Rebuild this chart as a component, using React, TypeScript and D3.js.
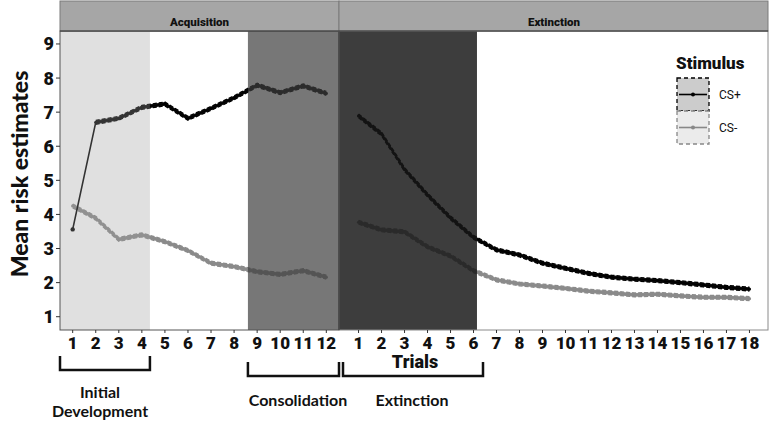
import React from "react";
import * as d3 from "d3";

const acqTrials = [1, 2, 3, 4, 5, 6, 7, 8, 9, 10, 11, 12];
const extTrials = [1, 2, 3, 4, 5, 6, 7, 8, 9, 10, 11, 12, 13, 14, 15, 16, 17, 18];
const acqCSplus = [3.56, 6.7, 6.82, 7.14, 7.24, 6.82, 7.11, 7.42, 7.79, 7.57, 7.77, 7.55];
const acqCSminus = [4.25, 3.89, 3.27, 3.4, 3.2, 2.94, 2.57, 2.47, 2.32, 2.24, 2.35, 2.16];
const extCSplus = [6.89, 6.36, 5.32, 4.57, 3.9, 3.33, 2.96, 2.81, 2.57, 2.42, 2.27, 2.16, 2.1, 2.06, 2.0, 1.93, 1.86, 1.81];
const extCSminus = [3.77, 3.55, 3.49, 3.05, 2.78, 2.35, 2.08, 1.96, 1.9, 1.83, 1.75, 1.7, 1.64, 1.66, 1.61, 1.57, 1.57, 1.53];
const yTicks = [1, 2, 3, 4, 5, 6, 7, 8, 9];
const panelLabels = ["Acquisition", "Extinction"];
const stimulusLabels = ["CS+", "CS-"];
const phaseLabels = ["Initial Development", "Consolidation", "Extinction"];

const W = 771, H = 423;
const TOP = 31, BOTTOM = 330;
const LX0 = 60, LX1 = 339, RX0 = 339, RX1 = 769;

export default function App() {
  const xL = d3.scaleLinear().domain([0.45, 12.55]).range([LX0, LX1]);
  const xR = d3.scaleLinear().domain([0.15, 18.85]).range([RX0, RX1]);
  const y = d3.scaleLinear().domain([0.61, 9.38]).range([BOTTOM, TOP]);
  const hw = 0.055;

  const colPlus = { line: "#000", fill: "#111", stroke: "#000" };
  const colMinus = { line: "#8a8a8a", fill: "#8f8f8f", stroke: "#8a8a8a" };

  const series = (x: any, trials: number[], vals: number[], col: any, ribbonStart: number, key: string) => {
    const pts = trials.map((t, i) => [t, vals[i]] as [number, number]);
    const line = d3.line<[number, number]>().x(d => x(d[0])).y(d => y(d[1]));
    const rib = pts.slice(ribbonStart);
    const area = d3.area<[number, number]>().x(d => x(d[0])).y0(d => y(d[1] - hw)).y1(d => y(d[1] + hw));
    const upper = d3.line<[number, number]>().x(d => x(d[0])).y(d => y(d[1] + hw));
    const lower = d3.line<[number, number]>().x(d => x(d[0])).y(d => y(d[1] - hw));
    return (
      <g key={key}>
        <path d={area(rib) || ""} fill={col.fill} />
        <path d={upper(rib) || ""} fill="none" stroke={col.stroke} strokeWidth={1.4} strokeDasharray="4,2" />
        <path d={lower(rib) || ""} fill="none" stroke={col.stroke} strokeWidth={1.4} strokeDasharray="4,2" />
        <path d={line(pts) || ""} fill="none" stroke={col.line} strokeWidth={1.6} />
        {pts.map((p, i) => (
          <circle key={i} cx={x(p[0])} cy={y(p[1])} r={i === 0 && ribbonStart > 0 ? 2.2 : 1.6} fill={col.line} />
        ))}
      </g>
    );
  };

  const tickFont = "Roboto, 'Liberation Sans', Arial, sans-serif";
  const annFont = "Lato, 'Open Sans', sans-serif";

  const bracket = (x0: number, x1: number, y0: number, y1: number) =>
    `M${x0},${y0}V${y1}H${x1}V${y0}`;

  return (
    <svg width={W} height={H} style={{ position: "absolute", left: 0, top: 0 }}>
      <rect x={0} y={0} width={W} height={H} fill="#fff" />
      <rect x={LX0} y={TOP} width={RX1 - LX0} height={BOTTOM - TOP} fill="#fff" />
      {series(xL, acqTrials, acqCSminus, colMinus, 0, "am")}
      {series(xL, acqTrials, acqCSplus, colPlus, 1, "ap")}
      {series(xR, extTrials, extCSminus, colMinus, 0, "em")}
      {series(xR, extTrials, extCSplus, colPlus, 0, "ep")}
      <rect x={xL(0.45)} y={TOP} width={xL(4.35) - xL(0.45)} height={BOTTOM - TOP} fill="rgb(160,160,160)" fillOpacity={0.32} />
      <rect x={xL(8.6)} y={TOP} width={xL(12.55) - xL(8.6)} height={BOTTOM - TOP} fill="rgb(61,61,61)" fillOpacity={0.7} />
      <rect x={xR(0.15)} y={TOP} width={xR(6.15) - xR(0.15)} height={BOTTOM - TOP} fill="rgb(23,23,23)" fillOpacity={0.835} />
      <rect x={LX0} y={TOP} width={LX1 - LX0} height={BOTTOM - TOP} fill="none" stroke="#555" strokeWidth={1} />
      <rect x={RX0} y={TOP} width={RX1 - RX0 - 1} height={BOTTOM - TOP} fill="none" stroke="#8a8a8a" strokeWidth={1} />
      <line x1={LX1} x2={LX1} y1={1} y2={BOTTOM} stroke="#333" strokeWidth={1.2} />
      <rect x={LX0} y={1} width={LX1 - LX0} height={TOP - 1} fill="#a6a6a6" stroke="#7a7a7a" strokeWidth={1} />
      <rect x={RX0} y={1} width={RX1 - RX0 - 1} height={TOP - 1} fill="#a6a6a6" stroke="#7a7a7a" strokeWidth={1} />
      <line x1={LX0} x2={RX1 - 1} y1={TOP} y2={TOP} stroke="#333" strokeWidth={1.2} />
      <text x={(LX0 + LX1) / 2} y={25.5} textAnchor="middle" fontFamily={tickFont} fontWeight={900} fontSize={11.5} fill="#111">{panelLabels[0]}</text>
      <text x={(RX0 + RX1) / 2} y={25.5} textAnchor="middle" fontFamily={tickFont} fontWeight={900} fontSize={11.5} fill="#111">{panelLabels[1]}</text>
      {yTicks.map(t => (
        <g key={t}>
          <line x1={LX0 - 4} x2={LX0} y1={y(t)} y2={y(t)} stroke="#333" strokeWidth={1} />
          <text x={LX0 - 6} y={y(t) + 6.5} textAnchor="end" fontFamily={tickFont} fontWeight={900} fontSize={18} fill="#111">{t}</text>
        </g>
      ))}
      <text transform={`translate(28,174) rotate(-90)`} textAnchor="middle" fontFamily={annFont} fontWeight={900} fontSize={23} fill="#111">Mean risk estimates</text>
      {acqTrials.map(t => (
        <g key={"l" + t}>
          <line x1={xL(t)} x2={xL(t)} y1={BOTTOM} y2={BOTTOM + 3} stroke="#333" />
          <text x={xL(t)} y={BOTTOM + 18.5} textAnchor="middle" fontFamily={tickFont} fontWeight={900} fontSize={17} fill="#111">{t}</text>
        </g>
      ))}
      {extTrials.map(t => (
        <g key={"r" + t}>
          <line x1={xR(t)} x2={xR(t)} y1={BOTTOM} y2={BOTTOM + 3} stroke="#333" />
          <text x={xR(t)} y={BOTTOM + 18.5} textAnchor="middle" fontFamily={tickFont} fontWeight={900} fontSize={17} fill="#111">{t}</text>
        </g>
      ))}
      <text x={415} y={368} textAnchor="middle" fontFamily={tickFont} fontWeight={900} fontSize={18} fill="#111">Trials</text>
      <path d={bracket(xL(0.45), xL(4.35), 356, 370)} fill="none" stroke="#111" strokeWidth={2.5} />
      <path d={bracket(xL(8.6), LX1, 362, 376)} fill="none" stroke="#111" strokeWidth={2.5} />
      <path d={bracket(343, 483, 362, 376)} fill="none" stroke="#111" strokeWidth={2.5} />
      <text x={100} y={398} textAnchor="middle" fontFamily={annFont} fontWeight={700} fontSize={16} fill="#111">Initial</text>
      <text x={100} y={417} textAnchor="middle" fontFamily={annFont} fontWeight={700} fontSize={16} fill="#111">Development</text>
      <text x={298} y={406} textAnchor="middle" fontFamily={annFont} fontWeight={700} fontSize={16} fill="#111">{phaseLabels[1]}</text>
      <text x={412} y={406} textAnchor="middle" fontFamily={annFont} fontWeight={700} fontSize={16} fill="#111">{phaseLabels[2]}</text>
      <text x={676} y={69} fontFamily={tickFont} fontWeight={900} fontSize={17} fill="#111">Stimulus</text>
      <rect x={677} y={78} width={32} height={33} fill="#cccccc" stroke="#000" strokeWidth={1.3} strokeDasharray="4,3" />
      <rect x={677} y={111} width={32} height={33} fill="#ebebeb" stroke="#888" strokeWidth={1.3} strokeDasharray="4,3" />
      <line x1={679} x2={707} y1={94.5} y2={94.5} stroke="#000" strokeWidth={1.6} />
      <circle cx={693} cy={94.5} r={2} fill="#000" />
      <line x1={679} x2={707} y1={127.5} y2={127.5} stroke="#888" strokeWidth={1.6} />
      <circle cx={693} cy={127.5} r={2} fill="#888" />
      <text x={719} y={99} fontFamily={tickFont} fontSize={12} fill="#111">{stimulusLabels[0]}</text>
      <text x={719} y={132} fontFamily={tickFont} fontSize={12} fill="#111">{stimulusLabels[1]}</text>
    </svg>
  );
}
